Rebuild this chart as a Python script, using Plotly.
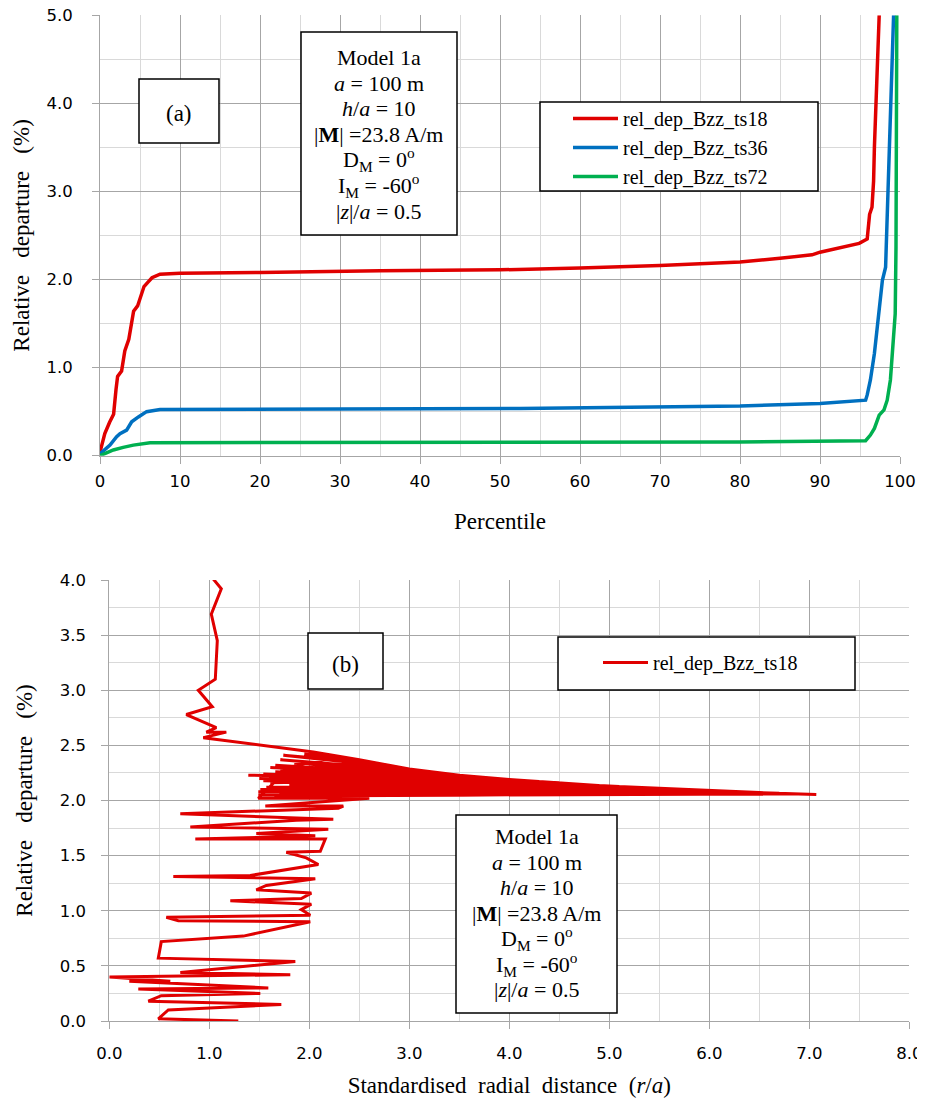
import plotly.graph_objects as go

W, H = 925, 1111
OFF = 8  # page body margin offset of the figure in the browser window

# ---------------- Panel (a) data: percentile vs relative departure ----------------
ts18_pct = [0, 0.6, 1.2, 1.7, 2.0, 2.2, 2.7, 3.1, 3.6, 3.8, 4.0, 4.2, 4.7, 5.0, 5.5, 6.0, 6.5, 7.5,
            10, 20, 35, 50, 60, 70, 80, 85, 89, 90, 92, 93.9, 94.9, 95.9, 96.2, 96.5, 96.7, 96.8, 96.9, 97.1, 97.4]
ts18_val = [0.04, 0.25, 0.38, 0.47, 0.75, 0.90, 0.96, 1.19, 1.32, 1.45, 1.53, 1.64, 1.70, 1.78, 1.92, 1.97, 2.02, 2.06,
            2.07, 2.08, 2.10, 2.11, 2.13, 2.16, 2.20, 2.24, 2.28, 2.31, 2.35, 2.38, 2.41, 2.46, 2.74, 2.82, 3.12, 3.50, 3.88, 4.25, 5.0]

ts36_pct = [0, 1.25, 2.08, 2.5, 3.33, 3.96, 4.8, 5.83, 7.5, 10, 30, 52.5, 70, 80, 90, 95.7,
            95.9, 96.3, 96.8, 97.2, 97.6, 97.8, 98.2, 98.4, 98.6, 98.8, 99.0, 99.2]
ts36_val = [0.02, 0.12, 0.215, 0.25, 0.29, 0.385, 0.44, 0.50, 0.525, 0.525, 0.53, 0.537, 0.55, 0.563, 0.593, 0.63,
            0.69, 0.86, 1.16, 1.46, 1.84, 1.99, 2.14, 2.67, 3.24, 3.88, 4.25, 5.0]

ts72_pct = [0, 1.67, 2.9, 4.17, 6.25, 10, 30, 52.5, 80, 95.7,
            96.3, 96.8, 97.2, 97.4, 98.0, 98.4, 98.8, 99.1, 99.4, 99.5, 99.55, 99.6]
ts72_val = [0.0, 0.065, 0.095, 0.12, 0.147, 0.147, 0.147, 0.147, 0.155, 0.17,
            0.234, 0.31, 0.40, 0.46, 0.52, 0.63, 0.86, 1.23, 1.61, 2.37, 4.25, 5.0]

# ---------------- Panel (b) data: r/a vs relative departure ----------------
rad_dist = [1.03, 1.12, 1.02, 1.08, 1.06, 0.89, 1.03, 0.77, 1.07, 0.97, 1.17, 0.94, 2.04,
            2.50, 3.00, 3.50, 4.00, 4.50, 5.00, 5.50, 6.00, 6.50, 7.07,
            1.50, 6.90, 1.65, 6.70, 1.55, 6.50, 1.49, 6.30, 1.60, 6.10, 1.70, 5.90, 1.54, 5.70,
            1.49, 5.50, 1.66, 5.30, 1.51, 5.10, 1.71, 4.90, 1.57, 4.70, 1.61, 4.50, 1.39, 4.30,
            1.80, 4.10, 1.66, 3.90, 1.61, 3.70, 1.85, 3.50, 1.54, 3.30, 1.71, 3.10, 1.62, 2.90,
            1.74, 2.70, 1.90, 2.50, 1.95, 2.30, 1.80, 1.49, 2.60,
            1.56, 2.34, 2.29, 0.71, 2.24, 1.87, 0.81, 2.19, 1.47, 2.06, 0.86, 2.16, 2.11, 1.77, 1.97,
            2.09, 1.41, 0.64, 2.06, 1.57, 1.47, 2.02, 1.92, 1.21, 2.02, 1.92, 2.01, 0.57, 0.69, 2.01,
            1.34, 0.52, 0.49, 1.86, 0.71, 1.81, 0.00, 0.61, 0.20, 1.59, 0.29, 1.51, 0.52, 0.39, 1.72,
            0.59, 0.49, 1.29]
rel_dep18 = [4.02, 3.92, 3.69, 3.45, 3.10, 3.00, 2.85, 2.78, 2.66, 2.62, 2.62, 2.57, 2.44,
             2.37, 2.285, 2.23, 2.19, 2.16, 2.13, 2.11, 2.09, 2.072, 2.055,
             2.20, 2.060, 2.04, 2.066, 2.18, 2.072, 2.05, 2.079, 2.22, 2.086, 2.06, 2.094, 2.24, 2.102,
             2.08, 2.11, 2.26, 2.118, 2.10, 2.126, 2.28, 2.136, 2.12, 2.148, 2.30, 2.16, 2.23, 2.172,
             2.14, 2.184, 2.32, 2.197, 2.16, 2.21, 2.34, 2.23, 2.18, 2.25, 2.37, 2.27, 2.20, 2.30,
             2.41, 2.335, 2.26, 2.37, 2.42, 2.40, 2.30, 2.02, 2.02,
             1.95, 1.95, 1.93, 1.88, 1.83, 1.82, 1.76, 1.74, 1.70, 1.68, 1.65, 1.65, 1.54, 1.53, 1.48,
             1.42, 1.32, 1.31, 1.29, 1.23, 1.19, 1.16, 1.11, 1.09, 1.06, 1.01, 0.96, 0.94, 0.91, 0.90,
             0.77, 0.72, 0.57, 0.54, 0.44, 0.42, 0.40, 0.36, 0.36, 0.30, 0.29, 0.25, 0.23, 0.18, 0.15,
             0.10, 0.02, 0.00]

model_lines = ["Model 1a", "<i>a</i> = 100 m", "<i>h</i>/<i>a</i> = 10", "|<b>M</b>| =23.8 A/m",
               "D<sub>M</sub> = 0<sup>o</sup>", "I<sub>M</sub> = -60<sup>o</sup>", "|<i>z</i>|/<i>a</i> = 0.5"]

RED, BLUE, GREEN = "#E00000", "#0070C0", "#00B050"
SERIF = "Liberation Serif"
SANS = "DejaVu Sans"
MAJ, MIN = "#a6a6a6", "#d9d9d9"


def px(x):
    return (x - OFF) / W


def py(y):
    return 1 - (y - OFF) / H


fig = go.Figure()
fig.add_trace(go.Scatter(x=ts18_pct, y=ts18_val, mode="lines", name="rel_dep_Bzz_ts18", legendgroup="g0",
                         line=dict(color=RED, width=3.5), xaxis="x", yaxis="y", legend="legend"))
fig.add_trace(go.Scatter(x=ts36_pct, y=ts36_val, mode="lines", name="rel_dep_Bzz_ts36", legendgroup="g1",
                         line=dict(color=BLUE, width=3.5), xaxis="x", yaxis="y", legend="legend"))
fig.add_trace(go.Scatter(x=ts72_pct, y=ts72_val, mode="lines", name="rel_dep_Bzz_ts72", legendgroup="g2",
                         line=dict(color=GREEN, width=3.5), xaxis="x", yaxis="y", legend="legend"))
fig.add_trace(go.Scatter(x=rad_dist, y=rel_dep18, mode="lines", name="rel_dep_Bzz_ts18",
                         line=dict(color=RED, width=3), xaxis="x2", yaxis="y2", legend="legend2"))

axis_common = dict(showline=True, linecolor=MAJ, linewidth=1, showgrid=True, gridcolor=MAJ, gridwidth=1,
                   zeroline=False, ticks="outside", ticklen=7, tickcolor=MAJ, automargin=False,
                   ticklabeloverflow="allow",
                   tickfont=dict(family=SANS, size=16.5, color="black"))

title_font = dict(family=SERIF, size=23, color="black")
ytitle = "Relative\u00a0\u00a0 departure\u00a0\u00a0 (%)"

fig.update_layout(
    template="none",
    width=W, height=H, margin=dict(l=0, r=0, t=0, b=0, pad=0, autoexpand=False),
    paper_bgcolor="white", plot_bgcolor="white",
    font=dict(family=SERIF, color="black"),
    xaxis=dict(domain=[px(100), px(900)], range=[0, 100], tick0=0, dtick=10, anchor="y",
               minor=dict(dtick=5, showgrid=True, gridcolor=MIN, ticks=""),
               title=dict(text="Percentile", font=title_font, standoff=23),
               ticklabelstandoff=3, **axis_common),
    yaxis=dict(domain=[py(455.7), py(15.2)], range=[0, 5], tick0=0, dtick=1, tickformat=".1f", anchor="x",
               minor=dict(dtick=0.5, showgrid=True, gridcolor=MIN, ticks=""),
               title=dict(text=ytitle, font=title_font, standoff=10),
               ticklabelstandoff=16, **axis_common),
    xaxis2=dict(domain=[px(109.3), px(909.3)], range=[0, 8], tick0=0, dtick=1, tickformat=".1f", anchor="y2",
                minor=dict(dtick=0.5, showgrid=True, gridcolor=MIN, ticks=""),
                title=dict(text="Standardised\u00a0 radial\u00a0 distance\u00a0 (<i>r</i>/<i>a</i>)",
                           font=title_font, standoff=15),
                ticklabelstandoff=10, **axis_common),
    yaxis2=dict(domain=[py(1021), py(580)], range=[0, 4], tick0=0, dtick=0.5, tickformat=".1f", anchor="x2",
                minor=dict(dtick=0.25, showgrid=True, gridcolor=MIN, ticks=""),
                title=dict(text=ytitle, font=title_font, standoff=20),
                ticklabelstandoff=12, **axis_common),
    legend=dict(x=px(568), y=py(99), xanchor="left", yanchor="top", bgcolor="rgba(0,0,0,0)",
                borderwidth=0, font=dict(family=SERIF, size=20, color="black"), itemwidth=45,
                traceorder="grouped", tracegroupgap=0),
    legend2=dict(x=px(598), y=py(643), xanchor="left", yanchor="top", bgcolor="rgba(0,0,0,0)",
                 borderwidth=0, font=dict(family=SERIF, size=20, color="black"), itemwidth=45),
    showlegend=True,
)

# boxes (legend frames and text frames)
boxes = [(540, 102, 818, 191), (139, 79, 219, 143), (301, 32, 457, 235),
         (558, 637, 855, 690), (308, 633, 383, 689), (456, 815, 617, 1013)]
for x0, y0, x1, y1 in boxes:
    fig.add_shape(type="rect", xref="paper", yref="paper", x0=px(x0), x1=px(x1), y0=py(y0), y1=py(y1),
                  line=dict(color="black", width=1.5), fillcolor="white", layer="above")

text_font = dict(family=SERIF, size=22, color="black")
fig.add_annotation(text="(a)", x=px(179), y=py(113), xref="paper", yref="paper", showarrow=False,
                   xanchor="center", yanchor="middle", font=dict(family=SERIF, size=23, color="black"))
fig.add_annotation(text="(b)", x=px(345.5), y=py(664), xref="paper", yref="paper", showarrow=False,
                   xanchor="center", yanchor="middle", font=dict(family=SERIF, size=23, color="black"))

top_centres = [57.5, 83, 108.5, 134.5, 159.5, 185.5, 211.5]
bot_centres = [836.5, 862, 887.5, 913, 938.5, 964.5, 989.5]
for txt, yc in zip(model_lines, top_centres):
    fig.add_annotation(text=txt, x=px(378.7), y=py(yc), xref="paper", yref="paper", showarrow=False,
                       xanchor="center", yanchor="middle", height=25, font=text_font)
for txt, yc in zip(model_lines, bot_centres):
    fig.add_annotation(text=txt, x=px(536.7), y=py(yc), xref="paper", yref="paper", showarrow=False,
                       xanchor="center", yanchor="middle", height=25, font=text_font)

fig.write_html("out.html")
